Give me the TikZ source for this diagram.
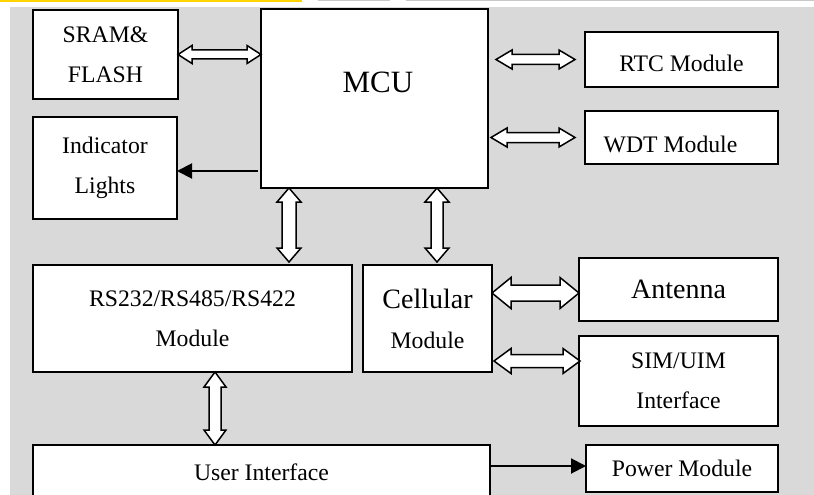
\documentclass[tikz,border=0pt]{standalone}
\usepackage{fontspec}
\setmainfont{Liberation Serif}
\usetikzlibrary{arrows.meta,calc}
\definecolor{bggray}{HTML}{D9D9D9}
\definecolor{yellowbar}{HTML}{FFD400}
\definecolor{topgray}{HTML}{C8C8C8}
% horizontal hollow double arrow: #1 left tip, #2 right tip (same y as #1), #3 shaft half, #4 head half, #5 head length
\newcommand{\HArrow}[5]{%
  \draw[blockarr] let \p1=#1, \p2=#2 in
    (\x1,\y1) -- (\x1+#5pt,\y1+#4pt) -- (\x1+#5pt,\y1+#3pt) -- (\x2-#5pt,\y1+#3pt)
    -- (\x2-#5pt,\y1+#4pt) -- (\x2,\y1) -- (\x2-#5pt,\y1-#4pt) -- (\x2-#5pt,\y1-#3pt)
    -- (\x1+#5pt,\y1-#3pt) -- (\x1+#5pt,\y1-#4pt) -- cycle;}
% vertical hollow double arrow: #1 top tip, #2 bottom tip (same x as #1)
\newcommand{\VArrow}[5]{%
  \draw[blockarr] let \p1=#1, \p2=#2 in
    (\x1,\y1) -- (\x1+#4pt,\y1-#5pt) -- (\x1+#3pt,\y1-#5pt) -- (\x1+#3pt,\y2+#5pt)
    -- (\x1+#4pt,\y2+#5pt) -- (\x1,\y2) -- (\x1-#4pt,\y2+#5pt) -- (\x1-#3pt,\y2+#5pt)
    -- (\x1-#3pt,\y1-#5pt) -- (\x1-#4pt,\y1-#5pt) -- cycle;}
\begin{document}
\begin{tikzpicture}[x=1pt,y=-1pt,
  box/.style={draw=black, line width=1.9pt, fill=white, inner sep=0pt, outer sep=0pt,
    align=center, font=\fontsize{23.7}{40}\selectfont},
  blockarr/.style={draw=black, line width=1.5pt, fill=white, line join=miter},
  fillarr/.style={draw=black, line width=2pt, -{Triangle[length=15pt,width=15pt]}}]
\useasboundingbox (0,0) rectangle (814,495);
\clip (0,0) rectangle (814,495);
\fill[white] (0,0) rectangle (814,495);
\fill[bggray] (10,7) rectangle (814,495);
\fill[yellowbar] (0,0) rectangle (302,1.6);
\fill[topgray] (318,0) rectangle (390,1.2);
\fill[topgray] (406,0) rectangle (814,1.2);

% boxes
\node[box, minimum width=145pt, minimum height=89pt] (sram) at (105.5,54.5) {SRAM\&\\FLASH};
\node[box, minimum width=227pt, minimum height=179pt,
  label={[font=\fontsize{31}{31}\selectfont, xshift=3.5pt, yshift=16.5pt]center:MCU}] (mcu) at (374.5,98.5) {};
\node[box, minimum width=193pt, minimum height=55pt,
  label={[font=\fontsize{23.7}{40}\selectfont, yshift=-3.5pt]center:RTC Module}] (rtc) at (681.5,59.5) {};
\node[box, minimum width=193pt, minimum height=53pt,
  label={[font=\fontsize{23.7}{40}\selectfont, xshift=-11pt, yshift=-6.5pt]center:WDT Module}] (wdt) at (681.5,137.5) {};
\node[box, minimum width=144pt, minimum height=102pt] (ind) at (105,168) {Indicator\\Lights};
\node[box, minimum width=319pt, minimum height=107pt] (rs) at (192.5,318.5) {RS232/RS485/RS422\\Module};
\node[box, minimum width=129pt, minimum height=107pt] (cell) at (427.5,318.5)
  {{\fontsize{28}{40}\selectfont Cellular}\\Module};
\node[box, minimum width=199pt, minimum height=63pt, font=\fontsize{28}{40}\selectfont] (ant) at (678.5,289.5) {Antenna};
\node[box, minimum width=199pt, minimum height=90pt] (sim) at (678.5,381) {SIM/UIM\\Interface};
\node[box, minimum width=457pt, minimum height=60pt,
  label={[font=\fontsize{23.7}{40}\selectfont, yshift=3pt]center:User Interface}] (user) at (261.5,475) {};
\node[box, minimum width=192pt, minimum height=47pt] (pow) at (682,468.5) {Power Module};

% guide coordinates
\coordinate (g1) at (289,0);
\coordinate (g2) at (437,0);
\coordinate (g3) at (215,0);
\coordinate (h1) at (0,293);
\coordinate (h2) at (0,361);
\coordinate (h3) at (0,171);
\coordinate (h4) at (0,466);

% hollow double arrows
\HArrow{(sram.east)}{(sram.east -| mcu.west)}{4.5}{9}{14}
\HArrow{($(rtc.west -| mcu.east)+(8,0)$)}{($(rtc.west)+(-10,0)$)}{5}{9.5}{16}
\HArrow{($(wdt.west -| mcu.east)+(3,0)$)}{($(wdt.west)+(-10,0)$)}{5}{9.5}{16}
\HArrow{(cell.east |- h1)}{(ant.west |- h1)}{8}{15.5}{19}
\HArrow{($(cell.east |- h2)+(2,0)$)}{($(sim.west |- h2)+(1,0)$)}{6.5}{12.5}{17}
\VArrow{(mcu.south -| g1)}{($(rs.north -| g1)+(0,-3)$)}{7}{12}{14}
\VArrow{(mcu.south -| g2)}{($(cell.north -| g2)+(0,-3)$)}{6}{12}{14}
\VArrow{(rs.south -| g3)}{(user.north -| g3)}{6}{11}{15}

% filled arrows
\draw[fillarr] ($(mcu.west |- h3)+(-3,0)$) -- (ind.east |- h3);
\draw[fillarr] (user.east |- h4) -- (pow.west |- h4);
\end{tikzpicture}
\end{document}
